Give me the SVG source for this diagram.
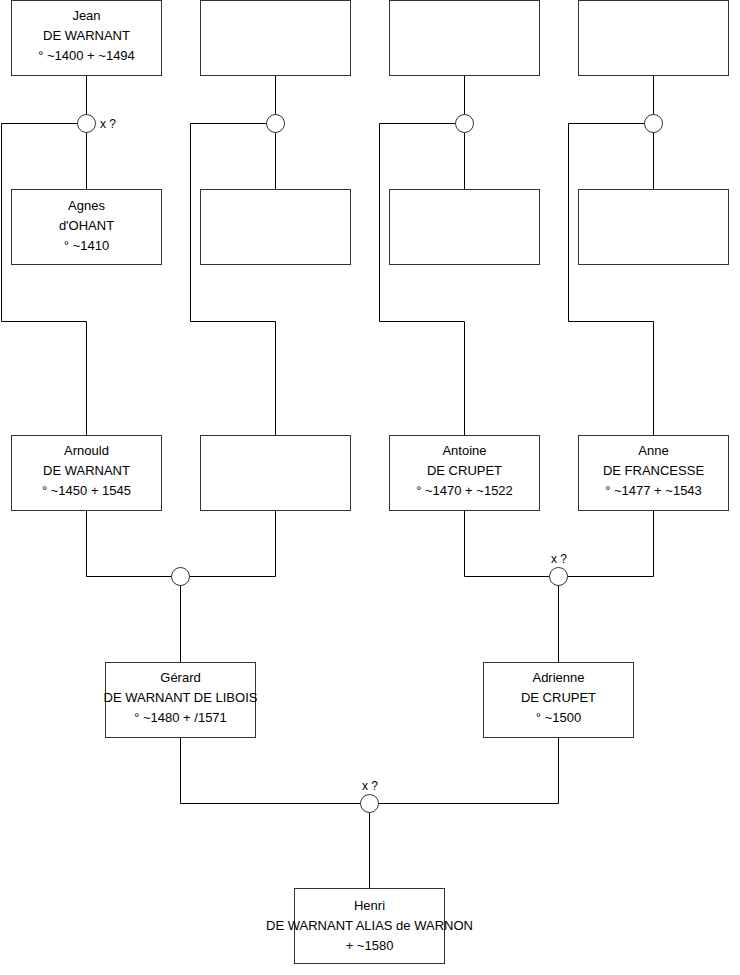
<svg xmlns="http://www.w3.org/2000/svg" width="740" height="975" viewBox="0 0 740 975">
<style>
.box{fill:#fff;stroke:#333;stroke-width:1}
.ln{fill:none;stroke:#000;stroke-width:1}
.dot{fill:#fff;stroke:#333;stroke-width:1}
text{font-family:"Liberation Sans",Arial,sans-serif;font-size:13px;fill:#000;text-anchor:middle}
.lbl{font-size:12px}
</style>
<rect width="740" height="975" fill="#fff"/>
<g id="connectors">
<path class="ln" d="M86.5 76 V189.5 M86.5 123.5 H1.5 V321.5 H86.5 V435.5"/>
<path class="ln" d="M275.5 76 V189.5 M275.5 123.5 H190.5 V321.5 H275.5 V435.5"/>
<path class="ln" d="M464.5 76 V189.5 M464.5 123.5 H379.5 V321.5 H464.5 V435.5"/>
<path class="ln" d="M653.5 76 V189.5 M653.5 123.5 H568.5 V321.5 H653.5 V435.5"/>
<path class="ln" d="M86.5 510.5 V576.5 H275.5 V510.5 M180.5 576.5 V662.5"/>
<path class="ln" d="M464.5 510.5 V576.5 H653.5 V510.5 M558.5 576.5 V662.5"/>
<path class="ln" d="M180.5 737.5 V803.5 H558.5 V737.5 M369.5 803.5 V888.5"/>
<circle class="dot" cx="86.5" cy="123.5" r="9"/>
<circle class="dot" cx="275.5" cy="123.5" r="9"/>
<circle class="dot" cx="464.5" cy="123.5" r="9"/>
<circle class="dot" cx="653.5" cy="123.5" r="9"/>
<circle class="dot" cx="180.5" cy="576.5" r="9"/>
<circle class="dot" cx="558.5" cy="576.5" r="9"/>
<circle class="dot" cx="369.5" cy="803.5" r="9"/>
<text class="lbl" x="100" y="128" style="text-anchor:start">x ?</text>
<text class="lbl" x="559" y="563">x ?</text>
<text class="lbl" x="370" y="790">x ?</text>
</g>
<g id="jean"><rect class="box" x="11.5" y="0.5" width="150" height="75"/>
<text x="86.5" y="20">Jean</text><text x="86.5" y="40">DE WARNANT</text><text x="86.5" y="60">° ~1400 + ~1494</text></g>
<g id="top2"><rect class="box" x="200.5" y="0.5" width="150" height="75"/></g>
<g id="top3"><rect class="box" x="389.5" y="0.5" width="150" height="75"/></g>
<g id="top4"><rect class="box" x="578.5" y="0.5" width="150" height="75"/></g>
<g id="agnes"><rect class="box" x="11.5" y="189.5" width="150" height="75"/>
<text x="86.5" y="210">Agnes</text><text x="86.5" y="230">d'OHANT</text><text x="86.5" y="250">° ~1410</text></g>
<g id="mid2"><rect class="box" x="200.5" y="189.5" width="150" height="75"/></g>
<g id="mid3"><rect class="box" x="389.5" y="189.5" width="150" height="75"/></g>
<g id="mid4"><rect class="box" x="578.5" y="189.5" width="150" height="75"/></g>
<g id="arnould"><rect class="box" x="11.5" y="435.5" width="150" height="75"/>
<text x="86.5" y="455">Arnould</text><text x="86.5" y="475">DE WARNANT</text><text x="86.5" y="495">° ~1450 + 1545</text></g>
<g id="row3b"><rect class="box" x="200.5" y="435.5" width="150" height="75"/></g>
<g id="antoine"><rect class="box" x="389.5" y="435.5" width="150" height="75"/>
<text x="464.5" y="455">Antoine</text><text x="464.5" y="475">DE CRUPET</text><text x="464.5" y="495">° ~1470 + ~1522</text></g>
<g id="anne"><rect class="box" x="578.5" y="435.5" width="150" height="75"/>
<text x="653.5" y="455">Anne</text><text x="653.5" y="475">DE FRANCESSE</text><text x="653.5" y="495">° ~1477 + ~1543</text></g>
<g id="gerard"><rect class="box" x="105.5" y="662.5" width="150" height="75"/>
<text x="180.5" y="682">Gérard</text><text x="180.5" y="702">DE WARNANT DE LIBOIS</text><text x="180.5" y="722">° ~1480 + /1571</text></g>
<g id="adrienne"><rect class="box" x="483.5" y="662.5" width="150" height="75"/>
<text x="558.5" y="682">Adrienne</text><text x="558.5" y="702">DE CRUPET</text><text x="558.5" y="722">° ~1500</text></g>
<g id="henri"><rect class="box" x="294.5" y="888.5" width="150" height="75"/>
<text x="369.5" y="910">Henri</text><text x="369.5" y="930">DE WARNANT ALIAS de WARNON</text><text x="369.5" y="950">+ ~1580</text></g>
</svg>
